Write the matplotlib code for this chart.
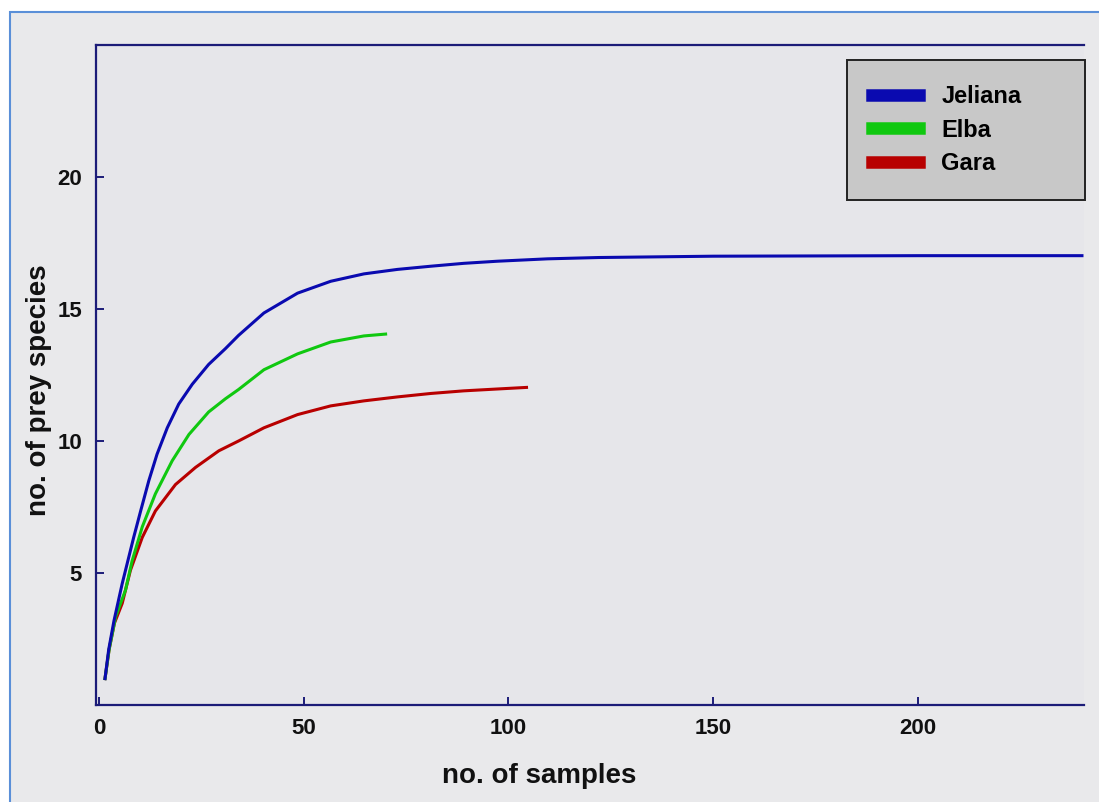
import matplotlib
matplotlib.use("Agg")
import matplotlib.pyplot as plt
from matplotlib.patches import Rectangle

# rarefaction curves
jeliana_x = [1.5, 2.4, 3.7, 5.7, 6.9, 8.5, 10.2, 12.2, 14.2, 16.7, 19.5, 22.8, 26.8, 30.9, 34.1,
             40.3, 48.5, 56.6, 64.7, 72.9, 81, 89.1, 97.3, 109.5, 122, 150, 200, 240]
jeliana_y = [1.0, 2.1, 3.2, 4.6, 5.35, 6.35, 7.35, 8.5, 9.5, 10.5, 11.4, 12.15, 12.9, 13.5, 14.0,
             14.85, 15.6, 16.05, 16.33, 16.5, 16.62, 16.73, 16.81, 16.9, 16.95, 17.0, 17.02, 17.02]

elba_x = [1.5, 2.5, 4.1, 6.5, 8.1, 10.6, 13.8, 17.9, 22.0, 26.8, 30.9, 34.1, 40.3, 48.5, 56.6, 64.7, 70]
elba_y = [1.0, 2.1, 3.35, 4.35, 5.45, 6.75, 8.0, 9.25, 10.25, 11.1, 11.6, 11.95, 12.7, 13.3, 13.75,
          13.98, 14.05]

gara_x = [1.5, 2.5, 3.8, 5.7, 7.7, 10.6, 13.8, 18.7, 23.6, 29.3, 34.1, 40.3, 48.5, 56.6, 64.7,
          72.9, 81, 89.1, 97.3, 104.4]
gara_y = [1.0, 2.1, 3.1, 3.85, 5.1, 6.35, 7.35, 8.35, 9.0, 9.63, 10.0, 10.5, 11.0, 11.33, 11.52,
          11.67, 11.8, 11.9, 11.97, 12.03]

x_ticks = [0, 50, 100, 150, 200]
y_ticks = [5, 10, 15, 20]

plt.rcParams['font.family'] = ['Liberation Sans', 'DejaVu Sans']

navy = "#1c1c78"
bg = "#e9e9eb"

fig = plt.figure(figsize=(10.99, 8.02), dpi=100, facecolor="white")
# window frame of the screenshot
fig.add_artist(Rectangle((10 / 1099, -0.01), 1.1, 1 - 12 / 802 + 0.01, transform=fig.transFigure,
                         facecolor=bg, edgecolor="#5a8fd8", linewidth=1.5, zorder=0))

ax = fig.add_axes([96 / 1099, 1 - 705 / 802, 988 / 1099, 660 / 802])
ax.set_facecolor("#e6e6ea")

ax.plot(gara_x, gara_y, color="#b80000", lw=2.2, label="Gara")
ax.plot(elba_x, elba_y, color="#10c810", lw=2.2, label="Elba")
ax.plot(jeliana_x, jeliana_y, color="#0a0ab0", lw=2.2, label="Jeliana")

ax.set_xlim(-0.7, 240.5)
ax.set_ylim(0, 25)
ax.set_xticks(x_ticks)
ax.set_yticks(y_ticks)

for side in ["left", "bottom", "top"]:
    ax.spines[side].set_color(navy)
    ax.spines[side].set_linewidth(1.6)
ax.spines["right"].set_visible(False)

ax.tick_params(direction="in", length=6, width=1.4, color=navy, labelsize=16)
ax.tick_params(axis="x", pad=9)
ax.tick_params(axis="y", pad=10)
for lbl in ax.get_xticklabels() + ax.get_yticklabels():
    lbl.set_fontweight("bold")
    lbl.set_color("#111111")

ax.set_xlabel("no. of samples", fontsize=20, fontweight="bold", color="#111111")
ax.set_ylabel("no. of prey species", fontsize=20, fontweight="bold", color="#111111")
ax.xaxis.set_label_coords(0.449, -0.088)
ax.yaxis.set_label_coords(-0.045, 0.477)

handles, labels = ax.get_legend_handles_labels()
leg = ax.legend(handles[::-1], labels[::-1], loc="upper left",
                bbox_to_anchor=(0.760, 0.770, 0.241, 0.207), mode="expand",
                borderaxespad=0, fancybox=False, framealpha=1, facecolor="#c8c8c8",
                edgecolor="#222222", handlelength=2.0, handletextpad=0.95, labelspacing=0.45,
                borderpad=1.05, prop={"size": 17, "weight": "bold"})
leg.get_frame().set_linewidth(1.4)
for h in leg.get_lines():
    h.set_linewidth(9)

fig.savefig("out.png", dpi=100, facecolor=fig.get_facecolor())
